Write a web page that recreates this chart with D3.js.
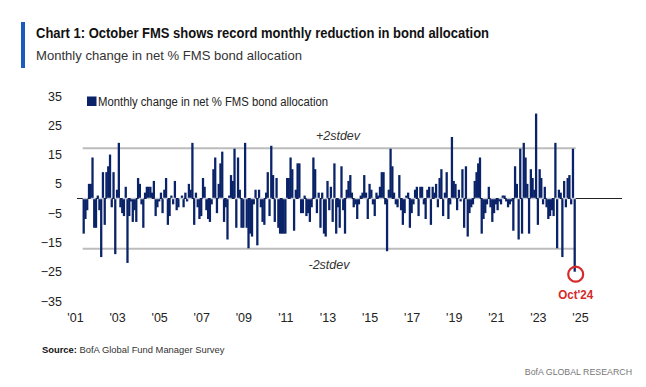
<!DOCTYPE html>
<html>
<head>
<meta charset="utf-8">
<script src="https://cdn.jsdelivr.net/npm/d3@7"></script>
<style>
  body { margin: 0; background: #fff; }
  text { font-family: "Liberation Sans Narrow", "Liberation Sans", Arial, sans-serif; }
</style>
</head>
<body>
<div id="chart"></div>
<script>
// monthly change in net % FMS bond allocation, Jun 2001 .. Oct 2024
const startMonth = "2001-06";
const bondChange = [
  -12, -7, -4, 5, 5, 14, -10,                       // 2001 (Jun-Dec)
  -10, 1, -4, -20, 9, -9, 9, 11, 15, -3, 9, -19,    // 2002
  3, 19, -3, -5, -6, 4, -22, -6, -1, -8, -4, -8,    // 2003
  7, 5, -2, -10, 2, 4, 4, 4, 2, 6, -6, -3,          // 2004
  -1, 2, -5, 3, 7, -9, -6, 1, -2, 6, -4, -3,        // 2005
  0, 1, -3, 2, -1, 5, 3, 19, -9, 2, -3, -7,         // 2006
  -6, 7, 4, -4, -7, -8, -2, 10, 14, -5, 5, 12,      // 2007
  16, -8, -3, -14, 1, 8, 6, 17, -10, 14, 3, -10,    // 2008
  -10, 19, -10, -17, -12, -13, -2, 3, -16, 3, -3, -8, // 2009
  -9, 2, 9, -6, 18, 8, -8, 7, -10, -12, -12, -12,   // 2010
  -12, 7, 7, 14, 10, -11, 3, 12, 12, -5, -5, 1,     // 2011
  -6, -5, -8, -3, 14, 10, -5, 2, -10, 2, -12, -13,  // 2012
  6, -4, 4, -8, 12, -12, -3, -10, 11, -4, -12, 3,   // 2013
  6, 8, 2, -3, -2, -7, -2, 1, 2, 8, 2, -7,          // 2014
  5, 3, -2, -6, 2, 1, 4, 9, 9, -2, -18, 3,          // 2015
  17, 11, 2, -2, -3, 8, -4, -9, -5, 1, 2, -10,      // 2016
  -5, -2, 3, 4, -6, 4, 4, -2, -7, 3, 4, -9,         // 2017
  4, 2, 5, -3, 7, 10, -6, 2, 9, -7, -2, 21,         // 2018
  6, 5, -4, 3, -1, 10, -10, 11, -13, -5, -3, -2,    // 2019
  6, 9, 12, 14, -12, -7, -5, -2, 4, -3, -8, -5,     // 2020
  -2, -4, -1, -2, 1, 1, -1, -3, -2, -1, -11, 11,    // 2021
  5, -14, 17, -12, 19, 14, 5, -12, 10, 7, 3, 29,    // 2022
  -9, 10, 7, -2, 4, -3, -7, -6, -4, -6, 19, -17,    // 2023
  3, 2, -20, 6, -3, 7, 8, -2, 17, -25               // 2024 (Jan-Oct)
];
const yTicks = [35, 25, 15, 5, -5, -15, -25, -35];
const xTickYears = [2001, 2003, 2005, 2007, 2009, 2011, 2013, 2015, 2017, 2019, 2021, 2023, 2025];
const stdevLevels = [17.2, -17.2];
const stdevLabels = ["+2stdev", "-2stdev"];

const width = 646;
const height = 387;
const navy = "#0a2368";

const svg = d3.select("#chart").append("svg")
    .attr("width", width)
    .attr("height", height);

const first = d3.timeParse("%Y-%m")(startMonth);
const data = bondChange.map((v, i) => ({ date: d3.timeMonth.offset(first, i), value: v }));

const x = d3.scaleTime()
    .domain([new Date(2001, 0, 1), new Date(2025, 0, 1)])
    .range([75, 580]);
const y = d3.scaleLinear().domain([-35, 35]).range([301, 96]);
const step = (x.range()[1] - x.range()[0]) / 288;
const barW = step * 1.3;

// header
svg.append("rect").attr("x", 21).attr("y", 22).attr("width", 4).attr("height", 46).attr("fill", "#1b5bbd");
svg.append("text").attr("x", 36).attr("y", 38)
    .attr("font-size", 14.5).attr("font-weight", "bold").attr("fill", "#111")
    .attr("textLength", 453).attr("lengthAdjust", "spacingAndGlyphs")
    .text("Chart 1: October FMS shows record monthly reduction in bond allocation");
svg.append("text").attr("x", 36).attr("y", 60)
    .attr("font-size", 13.5).attr("fill", "#333")
    .attr("textLength", 266).attr("lengthAdjust", "spacingAndGlyphs")
    .text("Monthly change in net % FMS bond allocation");

// axes
const yAxis = svg.append("g")
    .attr("transform", "translate(65,0)")
    .call(d3.axisLeft(y).tickValues(yTicks).tickSize(0).tickPadding(3));
yAxis.select(".domain").remove();
yAxis.selectAll("text").attr("font-size", 12.5).attr("fill", "#222").style("font-family", null);

const xAxis = svg.append("g")
    .attr("transform", "translate(0,313)")
    .call(d3.axisBottom(x)
        .tickValues(xTickYears.map(yr => new Date(yr, 0, 1)))
        .tickFormat(d => "'" + d3.timeFormat("%y")(d))
        .tickSize(0).tickPadding(0));
xAxis.select(".domain").remove();
xAxis.selectAll("text").attr("font-size", 12.5).attr("fill", "#222").style("font-family", null);

// +/- 2 stdev bands
const x0 = x(data[0].date);
const x1 = x(data[data.length - 1].date);
svg.selectAll("line.band")
    .data(stdevLevels)
    .join("line")
    .attr("class", "band")
    .attr("x1", x0 - 1).attr("x2", x1 + 1)
    .attr("y1", d => y(d)).attr("y2", d => y(d))
    .attr("stroke", "#bcbcbc").attr("stroke-width", 2);

svg.selectAll("text.band")
    .data(stdevLevels)
    .join("text")
    .attr("class", "band")
    .attr("x", (d, i) => i === 0 ? 338 : 329)
    .attr("y", d => d > 0 ? y(d) - 8 : y(d) + 20)
    .attr("text-anchor", "middle")
    .attr("font-size", 12.5).attr("font-style", "italic").attr("fill", "#333")
    .text((d, i) => stdevLabels[i]);

// zero line
svg.append("line")
    .attr("x1", 77).attr("x2", 622)
    .attr("y1", y(0)).attr("y2", y(0))
    .attr("stroke", "#222").attr("stroke-width", 1);

// bars
svg.append("g").selectAll("rect")
    .data(data)
    .join("rect")
    .attr("x", d => x(d.date) - barW / 2)
    .attr("y", d => y(Math.max(0, d.value)))
    .attr("width", barW)
    .attr("height", d => Math.abs(y(d.value) - y(0)))
    .attr("fill", navy);

svg.append("line")
    .attr("x1", x0 - 1).attr("x2", x1 + 1)
    .attr("y1", y(0)).attr("y2", y(0))
    .attr("stroke", "#c5c9d6").attr("stroke-width", 1.3)
    .attr("stroke-dasharray", "5,3");

// legend
svg.append("rect").attr("x", 87).attr("y", 96.5).attr("width", 9.5).attr("height", 9.5).attr("fill", navy);
svg.append("text").attr("x", 98).attr("y", 105.5)
    .attr("font-size", 12.5).attr("fill", "#222")
    .attr("textLength", 230).attr("lengthAdjust", "spacingAndGlyphs")
    .text("Monthly change in net % FMS bond allocation");

// latest month highlight
const last = data[data.length - 1];
svg.append("circle")
    .attr("cx", x(last.date) + 1).attr("cy", y(last.value) + 2.5).attr("r", 7.5)
    .attr("fill", "none").attr("stroke", "#d42a2a").attr("stroke-width", 2.2);
svg.append("text")
    .attr("x", x(last.date) + 1).attr("y", 299)
    .attr("text-anchor", "middle")
    .attr("font-size", 12.5).attr("font-weight", "bold").attr("fill", "#d42a2a")
    .attr("textLength", 35).attr("lengthAdjust", "spacingAndGlyphs")
    .text(d3.timeFormat("%b")(last.date) + "'" + d3.timeFormat("%y")(last.date));

// footer
const src = svg.append("text").attr("x", 42).attr("y", 353)
    .attr("font-size", 9.4).attr("fill", "#333");
src.append("tspan").attr("font-weight", "bold").attr("fill", "#111").text("Source:");
src.append("tspan").text(" BofA Global Fund Manager Survey");

svg.append("text").attr("x", 632).attr("y", 375)
    .attr("text-anchor", "end")
    .attr("font-size", 8.8).attr("fill", "#777")
    .text("BofA GLOBAL RESEARCH");
</script>
</body>
</html>
